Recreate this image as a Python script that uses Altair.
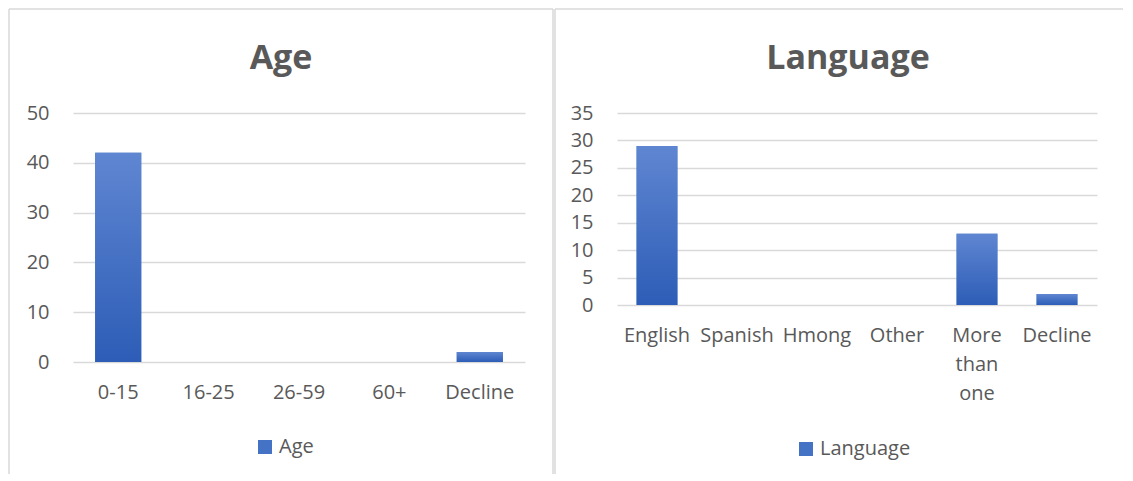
import altair as alt
import pandas as pd

age_cats = ["0-15", "16-25", "26-59", "60+", "Decline"]
age_vals = [42, 0, 0, 0, 2]
lang_cats = ["English", "Spanish", "Hmong", "Other", "More than one", "Decline"]
lang_vals = [29, 0, 0, 0, 13, 2]

FONT = "Open Sans"
GREY = "#595959"
BORDER = "#d9d9d9"
SOLID = "#4472c4"

grad = alt.Gradient(
    gradient="linear",
    stops=[alt.GradientStop(color="#5f86d1", offset=0),
           alt.GradientStop(color="#2d5db7", offset=1)],
    x1=0, x2=0, y1=0, y2=1,
)


def panel(cats, vals, name, ymax, ystep, w, h, title_x, leg_x, leg_y, frame, right_edge):
    df = pd.DataFrame({"cat": cats, "val": vals, "series": name})
    x = alt.X(
        "cat:N", sort=cats,
        scale=alt.Scale(paddingInner=0.49, paddingOuter=0.245),
        axis=alt.Axis(
            title=None, labelAngle=0, labelFontSize=20, labelColor=GREY,
            labelFont=FONT, labelPadding=20, ticks=False, domain=False,
            labelLineHeight=29,
            labelExpr="datum.label == 'More than one' ? ['More','than','one'] : datum.label",
        ),
    )
    y = alt.Y(
        "val:Q",
        scale=alt.Scale(domain=[0, ymax], nice=False),
        axis=alt.Axis(
            title=None, values=list(range(0, ymax + 1, ystep)), grid=True,
            gridColor=BORDER, gridWidth=1.3, domain=False, ticks=False,
            labelFontSize=20, labelColor=GREY, labelFont=FONT, labelPadding=24,
        ),
    )
    base = alt.Chart(df)
    solid = base.mark_bar().encode(
        x=x, y=y,
        color=alt.Color(
            "series:N",
            scale=alt.Scale(range=[SOLID]),
            legend=alt.Legend(
                title=None, orient="none", legendX=leg_x, legendY=leg_y,
                symbolType="square", symbolSize=196, symbolStrokeWidth=0,
                labelFontSize=20, labelColor=GREY, labelFont=FONT,
                labelOffset=4, padding=0,
            ),
        ),
    )
    shaded = base.mark_bar(color=grad).encode(x=x, y=y)

    one = alt.Data(values=[{}])
    fx0, fx1, fy0, fy1 = frame
    top_line = alt.Chart(one).mark_rule(color=BORDER, strokeWidth=1.5).encode(
        x=alt.value(fx0), x2=alt.value(fx1), y=alt.value(fy0))
    left_line = alt.Chart(one).mark_rule(color=BORDER, strokeWidth=1.5).encode(
        x=alt.value(fx0), y=alt.value(fy0), y2=alt.value(fy1))
    right_line = alt.Chart(one).mark_rule(color=BORDER, strokeWidth=1.5).encode(
        x=alt.value(fx1), y=alt.value(fy0), y2=alt.value(fy1))
    title = alt.Chart(one).mark_text(
        text=name, font=FONT, fontSize=34, fontWeight="bold", color=GREY,
        align="center", baseline="alphabetic",
    ).encode(x=alt.value(title_x), y=alt.value(-44))

    layers = [top_line, left_line]
    if right_edge:
        layers.append(right_line)
    layers += [solid, shaded, title]
    return alt.layer(*layers).properties(width=w, height=h)


left = panel(age_cats, age_vals, "Age", 50, 10, 452, 249,
             208, 182, 324, (-64, 480, -104, 361), True)
right = panel(lang_cats, lang_vals, "Language", 35, 5, 480, 192,
              231, 179, 326, (-62, 506, -104, 361), False)

chart = (
    alt.hconcat(left, right, spacing=0)
    .resolve_scale(color="independent")
    .resolve_legend(color="independent")
    .properties(padding=0, background="white")
    .configure_view(stroke=None)
)

chart.save("out.html", embed_options={"renderer": "svg", "actions": False})
